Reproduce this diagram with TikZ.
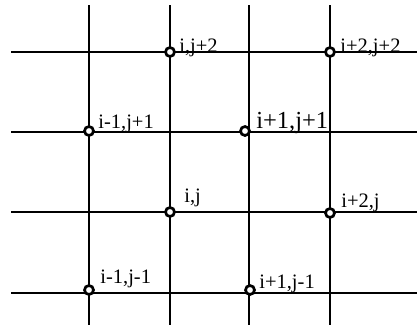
\documentclass[tikz,border=0pt]{standalone}
\usepackage{fontspec}
\setmainfont{Liberation Serif}
\usetikzlibrary{positioning}

\begin{document}
\begin{tikzpicture}[x=1pt,y=-1pt,line width=2.7pt]
  \tikzstyle{pt}=[circle,draw=black,fill=white,line width=2.7pt,inner sep=0pt,minimum width=8pt,minimum height=9pt]
  \tikzstyle{lbl}=[anchor=base west,inner sep=0pt,font=\fontsize{20.5}{22}\selectfont]
  \tikzstyle{biglbl}=[lbl,font=\fontsize{24.5}{26}\selectfont]
\useasboundingbox (0,0) rectangle (417,327);
% grid
\foreach \x in {89,170,249,330}
  \draw (\x,5) -- (\x,325);
\foreach \y in {52,132,212,293}
  \draw (11,\y) -- (417,\y);
% grid points
\node[pt] (A) at (170,52) {};
\node[pt] (B) at (330,52) {};
\node[pt] (C) at (89,131) {};
\node[pt] (D) at (245,131) {};
\node[pt] (E) at (170,212) {};
\node[pt] (F) at (330,213) {};
\node[pt] (G) at (89,290) {};
\node[pt] (H) at (250,290) {};
% labels
\node[lbl] (la) at (178,52) {i,j+2};
\node[lbl] (lb) at (339,52) {i+2,j+2};
\node[lbl] (lc) at (97,128) {i-1,j+1};
\node[biglbl] (ld) at (255,128) {i+1,j+1};
\node[lbl] (le) at (183,202) {i,j};
\node[lbl] (lf) at (340,207) {i+2,j};
\node[lbl] (lg) at (99,283) {i-1,j-1};
\node[lbl] (lh) at (258,288) {i+1,j-1};
\end{tikzpicture}
\end{document}
